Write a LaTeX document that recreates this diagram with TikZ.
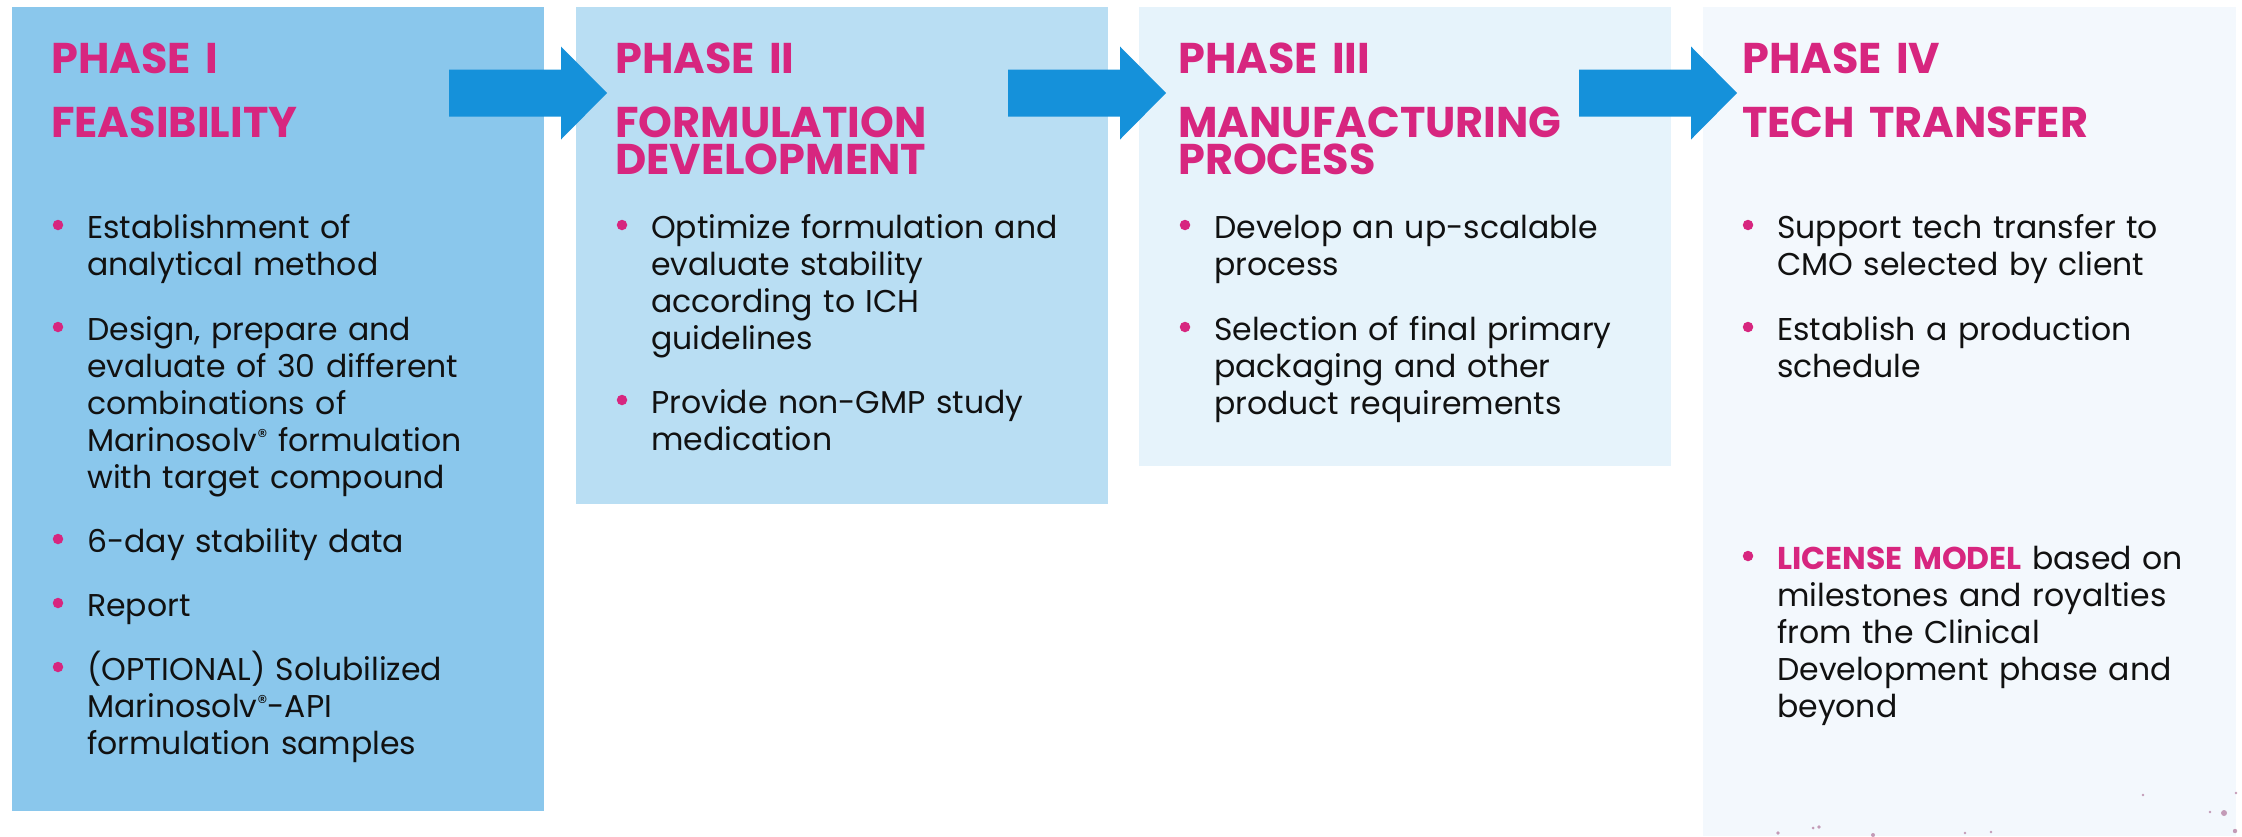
\documentclass[tikz,border=0pt]{standalone}
\usepackage{fontspec}
\setmainfont{Poppins}
\definecolor{phaseA}{HTML}{8AC7EC}
\definecolor{phaseB}{HTML}{B9DEF3}
\definecolor{phaseC}{HTML}{E6F3FB}
\definecolor{phaseD}{HTML}{F3F8FD}
\definecolor{flowblue}{HTML}{1591DA}
\definecolor{phasepink}{HTML}{D7267F}
\definecolor{speck}{HTML}{9C4F7E}
\definecolor{ink}{HTML}{111111}
\newcommand{\regmark}{{\fontsize{20}{20}\selectfont\raisebox{8pt}{®}}}
\begin{document}
\begin{tikzpicture}[x=1pt,y=-1pt,
  title/.style={anchor=base west, inner sep=0pt, text=phasepink,
    font=\fontsize{43}{37}\selectfont\bfseries, text width=420pt, align=left},
  item/.style={anchor=base west, inner sep=0pt, text=ink,
    font=\fontsize{31.5}{37}\selectfont, text width=420pt, align=left},
  dot/.style={circle, fill=phasepink, inner sep=0pt, minimum size=10.5pt},
  flow/.style={fill=flowblue},
  speckdot/.style={fill=speck, opacity=0.55}]
\useasboundingbox (0,0) rectangle (2242,836);
\fill[white] (0,0) rectangle (2242,836);

% phase panels
\fill[phaseA] (12,7) rectangle (544,811);
\fill[phaseB] (576,7) rectangle (1108,504);
\fill[phaseC] (1139,7) rectangle (1671,466);
\fill[phaseD] (1703,7) rectangle (2236,836);

% faint specks along the lower edge of the last panel
\foreach \px/\py/\r in {1778/833/1.8, 1813/828/1.5, 1819/827/1.8, 1873/835/2,
    1965/833/1.3, 1991/832/1.3, 2143/795/1.3, 2210/812/1.3, 2224/813/3,
    2235/831/2.2, 2236/793/1.3}{
  \fill[speckdot] (\px,\py) circle[radius=\r];
}

% block arrows between the panels
\foreach \dx/\nm in {0/fa, 559/fb, 1130/fc}{
  \coordinate (\nm) at (449+\dx,93);
  \fill[flow] ([shift={(0,-23.5)}]\nm) -- ++(112,0) -- ++(0,-23) -- ++(46,46.5)
     -- ++(-46,46.5) -- ++(0,-23) -- ++(-112,0) -- cycle;
}

% ---- Phase I
\node[title] (t1a) at (51,73) {PHASE I};
\node[title] (t1b) at (51,137) {FEASIBILITY};
\node[item] (i11) at (87,238) {Establishment of\\analytical method};
\node[item] (i12) at (87,340) {Design, prepare and\\evaluate of 30 different\\combinations of\\Marinosolv\regmark{} formulation\\with target compound};
\node[item] (i13) at (87,552) {6-day stability data};
\node[item] (i14) at (87,616) {Report};
\node[item] (i15) at (87,680) {(OPTIONAL) Solubilized\\Marinosolv\regmark-API\\formulation samples};

% ---- Phase II
\node[title] (t2a) at (615,73) {PHASE II};
\node[title] (t2b) at (615,137) {FORMULATION\\DEVELOPMENT};
\node[item] (i21) at (651,238) {Optimize formulation and\\evaluate stability\\according to ICH\\guidelines};
\node[item] (i22) at (651,413) {Provide non-GMP study\\medication};

% ---- Phase III
\node[title] (t3a) at (1178,73) {PHASE III};
\node[title] (t3b) at (1178,137) {MANUFACTURING\\PROCESS};
\node[item] (i31) at (1214,238) {Develop an up-scalable\\process};
\node[item] (i32) at (1214,340) {Selection of final primary\\packaging and other\\product requirements};

% ---- Phase IV
\node[title] (t4a) at (1742,73) {PHASE IV};
\node[title] (t4b) at (1742,137) {TECH TRANSFER};
\node[item] (i41) at (1777,238) {Support tech transfer to\\CMO selected by client};
\node[item] (i42) at (1777,340) {Establish a production\\schedule};
\node[item] (i43) at (1777,569) {{\color{phasepink}\bfseries LICENSE MODEL} based on\\milestones and royalties\\from the Clinical\\Development phase and\\beyond};

% bullet dots
\foreach \n in {i11,i12,i13,i14,i15,i21,i22,i31,i32,i41,i42,i43}{
  \node[dot] (d-\n) at ([xshift=-29pt,yshift=13pt]\n.base west) {};
}
\end{tikzpicture}
\end{document}
